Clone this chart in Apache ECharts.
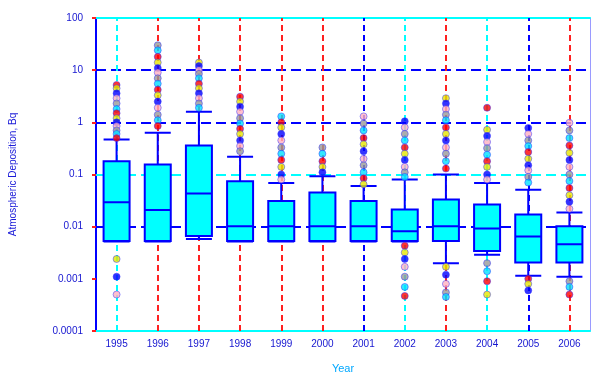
<!DOCTYPE html>
<html><head><meta charset="utf-8">
<script src="https://cdn.jsdelivr.net/npm/echarts@6/dist/echarts.min.js"></script>
<style>html,body{margin:0;padding:0;background:#fff}#c{width:592px;height:379px}</style>
</head><body><div id="c"></div>
<script>
// ---- data ----
const years = ['1995','1996','1997','1998','1999','2000','2001','2002','2003','2004','2005','2006'];
const whiskerLow  = [0.0052, 0.0052, 0.0058, 0.0052, 0.0052, 0.0052, 0.0052, 0.0052, 0.0020, 0.0029, 0.00115, 0.0011];
const q1          = [0.0053, 0.0053, 0.0066, 0.0053, 0.0053, 0.0053, 0.0053, 0.0053, 0.0053, 0.0034, 0.00205, 0.00205];
const median      = [0.0295, 0.0208, 0.043, 0.0102, 0.0102, 0.0102, 0.0102, 0.0082, 0.0102, 0.0092, 0.00645, 0.0046];
const q3          = [0.18, 0.155, 0.36, 0.074, 0.031, 0.045, 0.031, 0.0214, 0.033, 0.0267, 0.0172, 0.0102];
const whiskerHigh = [0.47, 0.63, 1.6, 0.22, 0.069, 0.093, 0.06, 0.08, 0.1, 0.069, 0.051, 0.0186];

const out1995 = [5.2, 4.5, 3.6, 2.9, 2.3, 1.8, 1.5, 1.2, 1.0, 0.85, 0.7, 0.6, 0.5, 0.0024, 0.0011, 0.0005];
const out1996 = [30, 24, 18, 14, 11, 9, 7, 5.5, 4.2, 3.3, 2.5, 1.9, 1.4, 1.1, 0.85];
const out1997 = [14, 12, 10, 8.5, 7, 5.5, 4.5, 3.6, 2.9, 2.3, 1.9];
const out1998 = [3.1, 2.5, 2.0, 1.6, 1.2, 0.95, 0.75, 0.6, 0.45, 0.35, 0.28];
const out1999 = [1.3, 1.0, 0.8, 0.6, 0.45, 0.33, 0.25, 0.19, 0.14, 0.1, 0.08];
const out2000 = [0.33, 0.25, 0.18, 0.14, 0.11];
const out2001 = [1.3, 0.95, 0.7, 0.5, 0.38, 0.28, 0.2, 0.15, 0.11, 0.085, 0.065];
const out2002 = [1.05, 0.8, 0.6, 0.45, 0.33, 0.25, 0.19, 0.14, 0.11, 0.09, 0.0043, 0.0032, 0.0024, 0.0017, 0.0011, 0.0007, 0.00047];
const out2003 = [2.9, 2.3, 1.8, 1.4, 1.1, 0.8, 0.6, 0.45, 0.33, 0.25, 0.18, 0.13, 0.0017, 0.0012, 0.0008, 0.00055, 0.00045];
const out2004 = [1.9, 0.72, 0.55, 0.42, 0.32, 0.24, 0.18, 0.14, 0.1, 0.08, 0.002, 0.0014, 0.0009, 0.0005];
const out2005 = [0.78, 0.6, 0.45, 0.35, 0.27, 0.2, 0.15, 0.12, 0.09, 0.07, 0.001, 0.0008, 0.0006];
const out2006 = [0.98, 0.7, 0.5, 0.36, 0.26, 0.19, 0.14, 0.1, 0.075, 0.055, 0.04, 0.03, 0.022, 0.0009, 0.0007, 0.0005];
const outlierLists = [out1995, out1996, out1997, out1998, out1999, out2000, out2001, out2002, out2003, out2004, out2005, out2006];

const yTickLabels = ['0.0001', '0.001', '0.01', '0.1', '1', '10', '100'];
const gridValues = [10, 1, 0.1, 0.01];

// ---- style ----
const BLUE = '#0000ff', CYAN = '#00ffff', RED = '#ff2020';
const hLineColors = [BLUE, BLUE, CYAN, BLUE];
const vLineColors = [CYAN, RED, RED, RED, RED, RED, BLUE, CYAN, RED, CYAN, BLUE, RED];
const dotColors = ['#ff0000', '#e6e600', '#0000ff', '#ffb0c0', '#999999', '#00e0ff'];

const boxData = years.map((y, i) => [whiskerLow[i], q1[i], median[i], q3[i], whiskerHigh[i]]);
const outData = [];
outlierLists.forEach((list, i) => list.forEach(v => outData.push([years[i], v])));

const markData = [];
gridValues.forEach((v, i) => markData.push({ yAxis: v, lineStyle: { color: hLineColors[i], type: [10, 5], width: 2 } }));
years.forEach((y, i) => markData.push({ xAxis: y, lineStyle: { color: vLineColors[i], type: [6, 4], width: 2 } }));

const chart = echarts.init(document.getElementById('c'), null, { renderer: 'canvas' });
chart.setOption({
  animation: false,
  backgroundColor: '#ffffff',
  grid: { left: 90, right: 2, top: 18, bottom: 47 },
  xAxis: [{
    type: 'category', data: years, boundaryGap: true,
    name: 'Year', nameLocation: 'middle', nameGap: 32,
    nameTextStyle: { color: '#00a8ff', fontSize: 11, fontFamily: 'Liberation Sans' },
    axisLine: { lineStyle: { color: CYAN, width: 2 } },
    axisTick: { alignWithLabel: true, length: 2, lineStyle: { color: BLUE } },
    axisLabel: { color: '#1515d0', fontSize: 10, fontFamily: 'Liberation Sans', margin: 8 },
    splitLine: { show: false }
  }, {
    type: 'category', data: years, position: 'top',
    axisLine: { lineStyle: { color: CYAN, width: 2 } },
    axisTick: { show: false }, axisLabel: { show: false }, splitLine: { show: false }
  }],
  yAxis: [{
    type: 'log', logBase: 10, min: 0.0001, max: 100,
    name: 'Atmospheric Deposition, Bq', nameLocation: 'middle', nameGap: 78, nameRotate: 90,
    nameTextStyle: { color: '#1a1ad8', fontSize: 10, fontFamily: 'Liberation Sans' },
    axisLine: { show: true, lineStyle: { color: BLUE, width: 2 } },
    axisTick: { show: true, length: 4, lineStyle: { color: RED, width: 2 } },
    axisLabel: { color: '#1515d0', fontSize: 10, fontFamily: 'Liberation Sans', margin: 13,
      formatter: (v) => yTickLabels[Math.round(Math.log10(v)) + 4] },
    splitLine: { show: false }
  }, {
    type: 'value', position: 'right', min: 0, max: 1,
    axisLine: { show: true, lineStyle: { color: '#9a9aff', width: 1 } },
    axisTick: { show: false }, axisLabel: { show: false }, splitLine: { show: false }
  }],
  series: [{
    type: 'line', data: [], z: 1,
    markLine: { silent: true, z: 1, symbol: ['none', 'none'], label: { show: false }, data: markData, animation: false }
  }, {
    type: 'boxplot', data: boxData, z: 3,
    boxWidth: [26, 26],
    itemStyle: { color: CYAN, borderColor: BLUE, borderWidth: 2 }
  }, {
    type: 'scatter', data: outData, z: 4,
    symbol: 'circle', symbolSize: 7,
    itemStyle: { color: (p) => dotColors[p.dataIndex % dotColors.length], borderColor: '#3030ff', borderWidth: 0.6 }
  }]
});
</script></body></html>
